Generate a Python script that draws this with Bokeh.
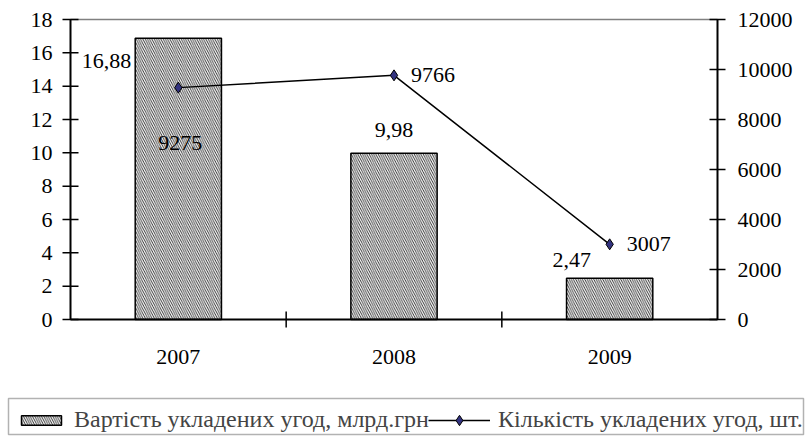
from bokeh.plotting import figure
from bokeh.models import (Range1d, Legend, LegendItem, Label, BoxAnnotation,
                          ColumnDataSource)
from bokeh.core.properties import value
from bokeh.embed import file_html
from bokeh.resources import INLINE

# ---- data ----
years = ["2007", "2008", "2009"]
value_bn = [16.88, 9.98, 2.47]          # Вартість укладених угод, млрд.грн
count_deals = [9275, 9766, 3007]        # Кількість укладених угод, шт.
left_ticks = [0, 2, 4, 6, 8, 10, 12, 14, 16, 18]
right_ticks = [0, 2000, 4000, 6000, 8000, 10000, 12000]
legend_value = "Вартість укладених угод, млрд.грн"
legend_count = "Кількість укладених угод, шт."

# ---- layout (pixels) ----
W, H = 808, 438
PX_LEFT, PX_RIGHT, PX_TOP, PX_BOTTOM = 70, 717, 19, 319
FONT = "Liberation Serif"
FS = "22px"

ncat = len(years)
sx = (PX_RIGHT - PX_LEFT) / ncat                 # px per category
X0 = -PX_LEFT / sx
X1 = X0 + W / sx
ymax = max(left_ticks)
sy = (PX_BOTTOM - PX_TOP) / ymax
Y1 = ymax + PX_TOP / sy
Y0 = ymax - (H - PX_TOP) / sy
rmax = max(right_ticks)
sr = (PX_BOTTOM - PX_TOP) / rmax
R1 = rmax + PX_TOP / sr
R0 = rmax - (H - PX_TOP) / sr

xs = [i + 0.5 for i in range(ncat)]
src = ColumnDataSource(dict(x=xs, val=value_bn, cnt=count_deals))

p = figure(width=W, height=H, x_range=Range1d(X0, X1), y_range=Range1d(Y0, Y1),
           x_axis_type=None, y_axis_type=None, min_border=0,
           output_backend="svg", toolbar_location=None)
p.extra_y_ranges = {"cnt": Range1d(R0, R1)}
p.grid.visible = False
p.outline_line_color = None
p.background_fill_color = "white"
p.border_fill_color = "white"

TXT = dict(text_font=value(FONT), text_font_size=value(FS), text_color="black",
           text_baseline="middle")
AX = dict(line_color="black", line_width=2)
TK = dict(line_color="black", line_width=1.5)
tx = 8 / sx
ty = 8 / sy

# grey top border of plot area
p.segment(x0=[0], x1=[ncat], y0=[ymax], y1=[ymax], line_color="#808080",
          line_width=1.5)

# bars, line, markers
bars = p.vbar(x="x", top="val", width=0.4, source=src, fill_color="white",
              line_color="black", line_width=1.5, hatch_pattern="\\",
              hatch_color="black", hatch_scale=4.5, hatch_weight=0.8)
line = p.line("x", "cnt", source=src, y_range_name="cnt", line_color="black",
              line_width=1.5)
pts = p.scatter("x", "cnt", source=src, y_range_name="cnt", marker="diamond",
                size=11, fill_color="#333380", line_color="black", line_width=1)

# left axis
p.segment(x0=[0], x1=[0], y0=[0], y1=[ymax], **AX)
p.segment(x0=[-tx] * len(left_ticks), x1=[tx] * len(left_ticks),
          y0=left_ticks, y1=left_ticks, **TK)
p.text(x=[-18 / sx] * len(left_ticks), y=left_ticks,
       text=[str(t) for t in left_ticks], text_align="right", **TXT)

# right axis
p.segment(x0=[ncat], x1=[ncat], y0=[0], y1=[rmax], y_range_name="cnt", **AX)
p.segment(x0=[ncat - tx] * len(right_ticks), x1=[ncat + tx] * len(right_ticks),
          y0=right_ticks, y1=right_ticks, y_range_name="cnt", **TK)
p.text(x=[ncat + 20 / sx] * len(right_ticks), y=right_ticks,
       text=[str(t) for t in right_ticks], text_align="left",
       y_range_name="cnt", **TXT)

# bottom axis
p.segment(x0=[0], x1=[ncat], y0=[0], y1=[0], **AX)
bounds = list(range(1, ncat))
p.segment(x0=bounds, x1=bounds, y0=[-ty] * len(bounds), y1=[ty] * len(bounds), **TK)
p.text(x=xs, y=[-37.5 / sy] * ncat, text=years, text_align="center", **TXT)

# data labels (screen offsets: dx, dy, align)
bar_lbl_style = [(-47, -23, "right"), (0, 23, "center"), (-38, 18, "center")]
cnt_lbl_style = [(2, -55, "center"), (17, 0, "left"), (17, 0, "left")]
for x, v, st in zip(xs, value_bn, bar_lbl_style):
    p.add_layout(Label(x=x, y=v, text=f"{v:.2f}".replace(".", ","),
                       x_offset=st[0], y_offset=st[1], text_align=st[2],
                       text_baseline="middle", text_font=FONT, text_font_size=FS,
                       text_color="black"))
for x, c, st in zip(xs, count_deals, cnt_lbl_style):
    p.add_layout(Label(x=x, y=c, y_range_name="cnt", text=str(c),
                       x_offset=st[0], y_offset=st[1], text_align=st[2],
                       text_baseline="middle", text_font=FONT, text_font_size=FS,
                       text_color="black"))

# legend frame and legends
p.add_layout(BoxAnnotation(left=8, right=803, top=398, bottom=434,
                           left_units="canvas", right_units="canvas",
                           top_units="canvas", bottom_units="canvas",
                           fill_alpha=0, line_color="black", line_width=1.5))

def make_legend(items, loc, gw, gh):
    L = Legend(items=items, location=loc, orientation="horizontal",
               border_line_color=None, background_fill_alpha=0, padding=5,
               margin=0, label_text_font=FONT, label_text_font_size="24px",
               label_standoff=8, glyph_width=gw, glyph_height=gh)
    p.add_layout(L)

make_legend([LegendItem(label=legend_value, renderers=[bars])], (16, 5), 50, 12)
make_legend([LegendItem(label=legend_count, renderers=[line, pts])], (428, 5), 62, 26)

open("out.html", "w").write(file_html(p, INLINE))
